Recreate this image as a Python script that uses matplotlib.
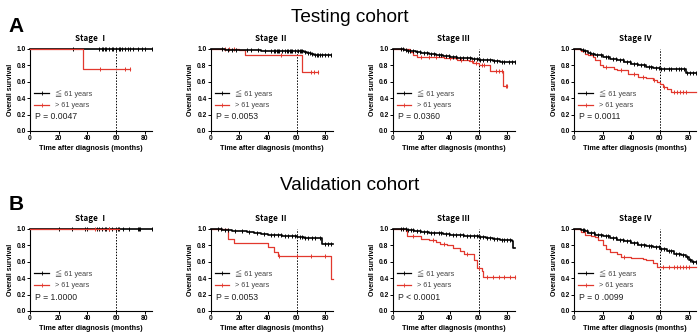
import numpy as np
import matplotlib
matplotlib.use('Agg')
import matplotlib.pyplot as plt
from matplotlib.lines import Line2D

plt.rcParams['font.family'] = ['Liberation Sans', 'Noto Sans CJK SC', 'DejaVu Sans']

stages = ['Stage Ⅰ', 'Stage Ⅱ', 'Stage Ⅲ', 'Stage Ⅳ']
cohorts = ['Testing cohort', 'Validation cohort']
panel_letters = ['A', 'B']
legend_labels = ['≦ 61 years', '> 61 years']
p_texts = [['P = 0.0047', 'P = 0.0053', 'P = 0.0360', 'P = 0.0011'],
           ['P = 1.0000', 'P = 0.0053', 'P < 0.0001', 'P = 0 .0099']]

# ---- Testing cohort ----
a1_young_t = [0, 85]
a1_young_s = [1.0, 1.0]
a1_young_c = [30, 48, 50, 51, 52, 53, 55, 57, 58, 60, 62, 63, 64, 66, 68, 70, 72, 75, 78, 80, 85]
a1_old_t = [0, 37, 70]
a1_old_s = [1.0, 0.75, 0.75]
a1_old_c = [49, 66, 70]

a2_young_t = [0, 6, 10, 22, 35, 50, 58, 65, 67, 70, 72, 84]
a2_young_s = [1.0, 0.995, 0.99, 0.985, 0.98, 0.975, 0.97, 0.965, 0.95, 0.94, 0.93, 0.93]
a2_young_c = [8, 12, 15, 18, 25, 28, 33, 38, 42, 44, 45, 46, 47, 48, 50, 52, 53, 54, 55, 56,
              57, 59, 61, 62, 63, 64, 66, 68, 69, 71, 73, 74, 75, 76, 78, 80, 82, 84]
a2_old_t = [0, 6, 20, 24, 64, 75]
a2_old_s = [1.0, 0.995, 0.985, 0.93, 0.72, 0.72]
a2_old_c = [10, 13, 16, 49, 70, 72, 75]

a3_young_t = [0, 5, 8, 10, 13, 16, 20, 25, 30, 35, 40, 45, 50, 55, 60, 65, 70, 75, 80, 85]
a3_young_s = [1.0, 0.995, 0.99, 0.98, 0.97, 0.96, 0.95, 0.935, 0.925, 0.915, 0.905, 0.895,
              0.885, 0.875, 0.865, 0.86, 0.855, 0.845, 0.84, 0.84]
a3_young_c = [6, 7, 9, 11, 12, 14, 17, 19, 22, 24, 27, 29, 32, 34, 37, 39, 42, 44, 47, 49, 52,
              54, 57, 59, 61, 63, 66, 68, 71, 73, 76, 78, 81, 83, 85]
a3_old_t = [0, 12, 14, 17, 36, 45, 50, 53, 56, 60, 66, 68, 77, 80]
a3_old_s = [1.0, 0.96, 0.93, 0.90, 0.89, 0.87, 0.86, 0.85, 0.83, 0.81, 0.80, 0.73, 0.55, 0.55]
a3_old_c = [20, 25, 30, 40, 48, 55, 58, 62, 64, 72, 74, 76, 79, 80]

a4_young_t = [0, 5, 7, 10, 12, 15, 18, 20, 25, 30, 35, 40, 45, 50, 55, 60, 65, 70, 78, 85]
a4_young_s = [1.0, 0.99, 0.97, 0.95, 0.94, 0.93, 0.92, 0.90, 0.88, 0.86, 0.84, 0.82, 0.80,
              0.78, 0.77, 0.76, 0.755, 0.75, 0.71, 0.71]
a4_young_c = [6, 8, 11, 13, 16, 19, 22, 24, 27, 29, 32, 34, 37, 39, 42, 44, 47, 49, 52, 54, 57,
              59, 61, 63, 66, 68, 71, 73, 75, 77, 79, 81, 83, 85]
a4_old_t = [0, 5, 8, 10, 13, 15, 18, 20, 28, 30, 38, 45, 50, 55, 58, 60, 62, 65, 68, 85]
a4_old_s = [1.0, 0.97, 0.94, 0.92, 0.90, 0.86, 0.80, 0.78, 0.76, 0.74, 0.70, 0.66, 0.64, 0.62,
            0.60, 0.57, 0.54, 0.51, 0.47, 0.47]
a4_old_c = [22, 33, 42, 48, 56, 63, 70, 72, 74, 76, 78]

# ---- Validation cohort ----
b1_young_t = [0, 85]
b1_young_s = [1.0, 1.0]
b1_young_c = [20, 29, 38, 40, 47, 48, 50, 52, 53, 55, 57, 60, 61, 62, 65, 69, 75, 76, 77, 85]
b1_old_t = [0, 62]
b1_old_s = [1.0, 1.0]
b1_old_c = [45, 55]

b2_young_t = [0, 8, 15, 20, 25, 30, 35, 40, 45, 50, 55, 60, 65, 70, 75, 78, 85]
b2_young_s = [1.0, 0.99, 0.98, 0.97, 0.96, 0.95, 0.94, 0.93, 0.925, 0.92, 0.91, 0.90, 0.895,
              0.89, 0.885, 0.82, 0.82]
b2_young_c = [5, 7, 10, 12, 17, 22, 27, 32, 37, 42, 44, 47, 49, 52, 54, 57, 59, 62, 64, 66, 68,
              71, 73, 76, 80, 82, 84]
b2_old_t = [0, 12, 16, 40, 44, 47, 84, 85]
b2_old_s = [1.0, 0.88, 0.83, 0.78, 0.72, 0.67, 0.39, 0.39]
b2_old_c = [48, 60, 70, 80]

b3_young_t = [0, 5, 10, 15, 20, 25, 30, 35, 40, 45, 50, 55, 60, 65, 70, 75, 83, 84, 85]
b3_young_s = [1.0, 0.995, 0.985, 0.975, 0.965, 0.955, 0.945, 0.94, 0.93, 0.925, 0.915, 0.91,
              0.90, 0.89, 0.88, 0.86, 0.85, 0.77, 0.77]
b3_young_c = [6, 7, 9, 11, 13, 14, 17, 19, 22, 24, 27, 29, 32, 34, 37, 39, 42, 44, 47, 49, 52,
              54, 57, 59, 61, 63, 66, 68, 71, 73, 76, 78, 80, 82]
b3_old_t = [0, 9, 10, 17, 20, 25, 30, 33, 38, 42, 47, 50, 55, 57, 59, 62, 63, 85]
b3_old_s = [1.0, 0.97, 0.92, 0.91, 0.88, 0.86, 0.84, 0.82, 0.80, 0.77, 0.73, 0.70, 0.69, 0.62,
            0.52, 0.49, 0.42, 0.42]
b3_old_c = [14, 28, 36, 52, 60, 66, 70, 74, 78, 82, 85]

b4_young_t = [0, 5, 8, 10, 15, 20, 25, 30, 35, 40, 45, 50, 55, 60, 65, 70, 75, 78, 80, 82, 85]
b4_young_s = [1.0, 0.99, 0.97, 0.95, 0.93, 0.91, 0.89, 0.87, 0.85, 0.83, 0.81, 0.79, 0.775,
              0.76, 0.73, 0.70, 0.68, 0.66, 0.62, 0.60, 0.60]
b4_young_c = [6, 7, 9, 12, 14, 17, 19, 22, 24, 27, 29, 32, 34, 37, 39, 42, 44, 47, 49, 52, 54,
              57, 59, 61, 63, 66, 68, 71, 73, 76, 79, 81, 83, 85]
b4_old_t = [0, 5, 8, 12, 15, 17, 20, 22, 25, 30, 33, 40, 45, 48, 50, 55, 58, 85]
b4_old_s = [1.0, 0.96, 0.93, 0.92, 0.90, 0.86, 0.80, 0.75, 0.72, 0.70, 0.66, 0.65, 0.64, 0.63,
            0.62, 0.58, 0.54, 0.54]
b4_old_c = [35, 62, 66, 70, 72, 74, 76, 78, 80]

panels = [
    [(a1_young_t, a1_young_s, a1_young_c, a1_old_t, a1_old_s, a1_old_c),
     (a2_young_t, a2_young_s, a2_young_c, a2_old_t, a2_old_s, a2_old_c),
     (a3_young_t, a3_young_s, a3_young_c, a3_old_t, a3_old_s, a3_old_c),
     (a4_young_t, a4_young_s, a4_young_c, a4_old_t, a4_old_s, a4_old_c)],
    [(b1_young_t, b1_young_s, b1_young_c, b1_old_t, b1_old_s, b1_old_c),
     (b2_young_t, b2_young_s, b2_young_c, b2_old_t, b2_old_s, b2_old_c),
     (b3_young_t, b3_young_s, b3_young_c, b3_old_t, b3_old_s, b3_old_c),
     (b4_young_t, b4_young_s, b4_young_c, b4_old_t, b4_old_s, b4_old_c)],
]

RED = '#e2382e'


def km_curve(ax, t, s, cens, color, z, lw):
    t = np.array(t, dtype=float)
    s = np.array(s, dtype=float)
    ax.step(t, s, where='post', color=color, lw=lw, zorder=z, clip_on=False)
    c = np.array(cens, dtype=float)
    idx = np.searchsorted(t, c, side='right') - 1
    ax.plot(c, s[idx], ls='none', marker='|', ms=2.5, mew=0.7, color=color,
            zorder=z, clip_on=False)


fig = plt.figure(figsize=(7.0, 3.34), dpi=100)

lefts = [0.043, 0.301, 0.561, 0.820]
bottoms = [0.608, 0.069]
width, height = 0.174, 0.2455

for r in range(2):
    for c in range(4):
        yt, ys, yc, ot, os_, oc = panels[r][c]
        ax = fig.add_axes([lefts[c], bottoms[r], width, height])
        km_curve(ax, yt, ys, yc, 'black', 3, 1.2)
        km_curve(ax, ot, os_, oc, RED, 4 if c == 0 else 2, 0.9)
        ax.axvline(60, color='black', ls=(0, (1.5, 1.5)), lw=0.7, zorder=1)
        ax.set_xlim(0, 85)
        ax.set_ylim(0, 1.0)
        ax.set_xticks([0, 20, 40, 60, 80])
        ax.set_yticks([0.0, 0.2, 0.4, 0.6, 0.8, 1.0])
        ax.set_yticklabels(['0.0', '0.2', '0.4', '0.6', '0.8', '1.0'])
        ax.spines['top'].set_visible(False)
        ax.spines['right'].set_visible(False)
        for sp in ['left', 'bottom']:
            ax.spines[sp].set_linewidth(0.8)
        ax.tick_params(labelsize=4.8, length=2, width=0.7, pad=1)
        for lab in ax.get_xticklabels() + ax.get_yticklabels():
            lab.set_fontweight('bold')
        ax.set_xlabel('Time after diagnosis (months)', fontsize=5.2, fontweight='bold', labelpad=2)
        ax.set_ylabel('Overall survival', fontsize=5, fontweight='bold', labelpad=2)
        ax.set_title(stages[c], fontsize=5.8, fontweight='bold', pad=6,
                     family=['Noto Sans CJK JP', 'DejaVu Sans'])

        handles = [Line2D([], [], color='black', lw=0.9, marker='|', ms=2.5, mew=0.6),
                   Line2D([], [], color=RED, lw=0.9, marker='|', ms=2.5, mew=0.6)]
        ax.legend(handles, legend_labels, loc='lower left', bbox_to_anchor=(0.0, 0.21),
                  frameon=False, fontsize=5.2, handlelength=2.0, handletextpad=0.8,
                  labelspacing=0.6, numpoints=1, borderaxespad=0.2, labelcolor='#444444')
        ax.text(0.04, 0.17, p_texts[r][c], transform=ax.transAxes, fontsize=6.2,
                color='#222222', va='center')

fig.text(0.5, 1 - 18 / 334, cohorts[0], ha='center', va='center', fontsize=13.7)
fig.text(0.5, 1 - 186 / 334, cohorts[1], ha='center', va='center', fontsize=13.7)
fig.text(0.012, 1 - 26 / 334, panel_letters[0], ha='left', va='center', fontsize=15, fontweight='bold')
fig.text(0.012, 1 - 205 / 334, panel_letters[1], ha='left', va='center', fontsize=15, fontweight='bold')

fig.savefig('out.png', dpi=100)
